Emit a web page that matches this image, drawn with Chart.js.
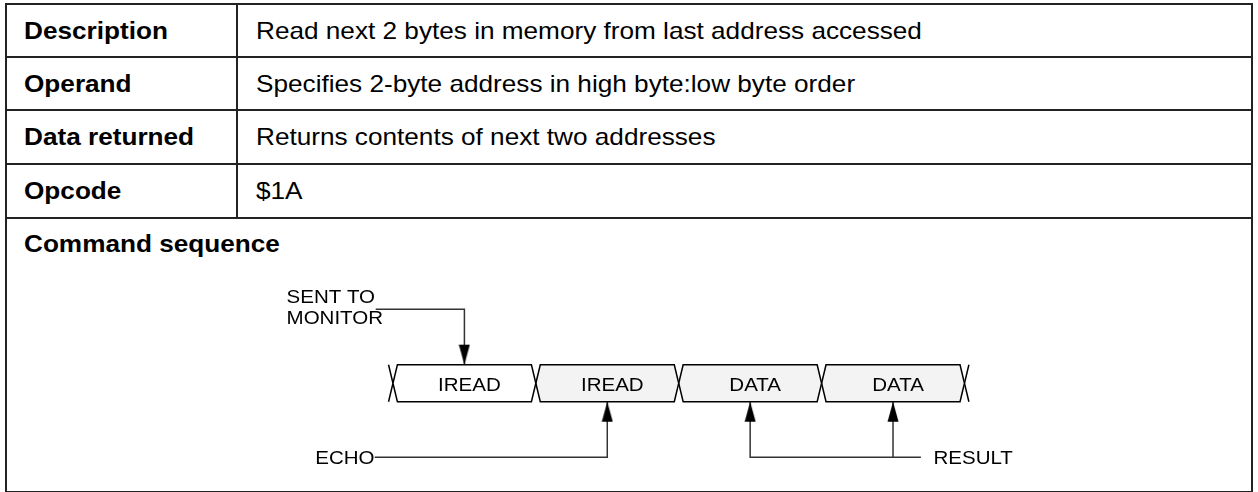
<!DOCTYPE html>
<html>
<head>
<meta charset="utf-8">
<script src="https://cdn.jsdelivr.net/npm/chart.js@4.4.1/dist/chart.umd.min.js"></script>
<style>
  body { margin: 0; background: #fff; font-family: "Liberation Sans", Arial, sans-serif; }
  #wrap { position: relative; width: 1258px; height: 492px; overflow: hidden; }
  table { position: absolute; left: 5px; top: 3px; width: 1248px; border-collapse: collapse; table-layout: fixed; }
  td { border: 2px solid #222; font-size: 24px; color: #000; padding: 0 0 0 17px; vertical-align: middle; box-sizing: border-box; }
  td.head { font-weight: bold; }
  td span { display: inline-block; transform: scaleX(1.09); transform-origin: left center; white-space: nowrap; }
  td.val { padding-left: 18px; }
  #seq { vertical-align: top; padding-top: 11px; }
  #diagram { position: absolute; left: 0; top: 0; pointer-events: none; }
</style>
</head>
<body>
<div id="wrap">
  <table id="info"></table>
  <canvas id="diagram" width="1258" height="492"></canvas>
</div>
<script>
// table text
const rowNames = ["Description", "Operand", "Data returned", "Opcode"];
const rowValues = [
  "Read next 2 bytes in memory from last address accessed",
  "Specifies 2-byte address in high byte:low byte order",
  "Returns contents of next two addresses",
  "$1A",
];
const sequenceTitle = "Command sequence";

// timing diagram: one slot per byte on the line
const slotLabels = ["IREAD", "IREAD", "DATA", "DATA"];
const slotShaded = [false, true, true, true];
const sentSlots = [0];      // byte sent to monitor
const echoSlots = [1];      // echoed byte
const resultSlots = [2, 3]; // returned bytes

// build the table
const table = document.getElementById("info");
const rowHeights = [53, 53, 54, 54];
rowNames.forEach((name, i) => {
  const tr = document.createElement("tr");
  tr.style.height = rowHeights[i] + "px";
  tr.innerHTML = `<td class="head" style="width:231px"><span>${name}</span></td><td class="val"><span>${rowValues[i]}</span></td>`;
  table.appendChild(tr);
});
const lastRow = document.createElement("tr");
lastRow.style.height = "274px";
lastRow.innerHTML = `<td id="seq" class="head" colspan="2"><span>${sequenceTitle}</span></td>`;
table.appendChild(lastRow);

// arrowhead image, tip in the middle of the canvas
const arrow = document.createElement("canvas");
arrow.width = 12;
arrow.height = 42;
const actx = arrow.getContext("2d");
actx.fillStyle = "#000";
actx.beginPath();
actx.moveTo(6, 21);
actx.lineTo(11.5, 41);
actx.lineTo(0.5, 41);
actx.closePath();
actx.fill();

const X = 0.031; // half width of a bus crossing
const LEAD = 4;   // level of the callout lines
const datasets = [];

slotLabels.forEach((label, i) => {
  datasets.push({
    data: [
      { x: i, y: 0 }, { x: i + X, y: 1 }, { x: i + 1 - X, y: 1 }, { x: i + 1, y: 0 },
      { x: i + 1 - X, y: -1 }, { x: i + X, y: -1 }, { x: i, y: 0 },
    ],
    borderColor: "#000",
    borderWidth: 1.5,
    backgroundColor: slotShaded[i] ? "#f3f3f3" : "#ffffff",
    fill: "shape",
    pointRadius: 0,
  });
});

// loose ends of the bus
const n = slotLabels.length;
[[0, -X], [n, X]].forEach(([c, dx]) => {
  datasets.push({
    data: [{ x: c + dx, y: 1 }, { x: c, y: 0 }, { x: c + dx, y: -1 }],
    borderColor: "#000",
    borderWidth: 1.5,
    pointRadius: 0,
    fill: false,
  });
});

function lead(points, down) {
  const tip = points.length - 1;
  return {
    data: points,
    borderColor: "#333",
    borderWidth: 1.5,
    fill: false,
    pointStyle: arrow,
    pointRotation: down ? 180 : 0,
    pointRadius: (c) => (c.dataIndex === tip ? 5 : 0),
  };
}

const sentStart = -0.121, echoStart = -0.128, resultEnd = 3.695;
sentSlots.forEach((s) => {
  datasets.push(lead([{ x: sentStart, y: LEAD }, { x: s + 0.5, y: LEAD }, { x: s + 0.5, y: 1 }], true));
});
echoSlots.forEach((s) => {
  datasets.push(lead([{ x: echoStart, y: -LEAD }, { x: s + 0.5, y: -LEAD }, { x: s + 0.5, y: -1 }], false));
});
resultSlots.forEach((s, k) => {
  const pts = k === 0
    ? [{ x: resultEnd, y: -LEAD }, { x: s + 0.5, y: -LEAD }, { x: s + 0.5, y: -1 }]
    : [{ x: s + 0.5, y: -LEAD }, { x: s + 0.5, y: -1 }];
  datasets.push(lead(pts, false));
});

const STRETCH = 1.08;
function drawText(ctx, text, px, py, align) {
  const w = ctx.measureText(text).width * STRETCH;
  const left = align === "center" ? px - w / 2 : align === "right" ? px - w : px;
  ctx.save();
  ctx.translate(left, py);
  ctx.scale(STRETCH, 1);
  ctx.fillText(text, 0, 0);
  ctx.restore();
}

const labelPlugin = {
  id: "busLabels",
  afterDatasetsDraw(chart) {
    const { ctx, scales } = chart;
    const px = (v) => scales.x.getPixelForValue(v);
    const py = (v) => scales.y.getPixelForValue(v);
    ctx.save();
    ctx.font = '19px "Liberation Sans", Arial, sans-serif';
    ctx.fillStyle = "#000";
    ctx.textAlign = "left";
    ctx.textBaseline = "alphabetic";
    slotLabels.forEach((label, i) => drawText(ctx, label, px(i + 0.535), py(-0.42), "center"));
    drawText(ctx, "SENT TO", px(-0.745), py(4.32), "left");
    drawText(ctx, "MONITOR", px(-0.745), py(3.21), "left");
    drawText(ctx, "ECHO", px(-0.544), py(-4.39), "left");
    drawText(ctx, "RESULT", px(3.783), py(-4.39), "left");
    ctx.restore();
  },
};

new Chart(document.getElementById("diagram"), {
  type: "line",
  data: { datasets },
  options: {
    responsive: false,
    animation: false,
    devicePixelRatio: 1,
    layout: { padding: 0 },
    plugins: { legend: { display: false }, tooltip: { enabled: false } },
    scales: {
      x: { type: "linear", display: false, min: -2.705, max: 6.009 },
      y: { type: "linear", display: false, min: -5.53, max: 20.37 },
    },
  },
  plugins: [labelPlugin],
});
</script>
</body>
</html>
